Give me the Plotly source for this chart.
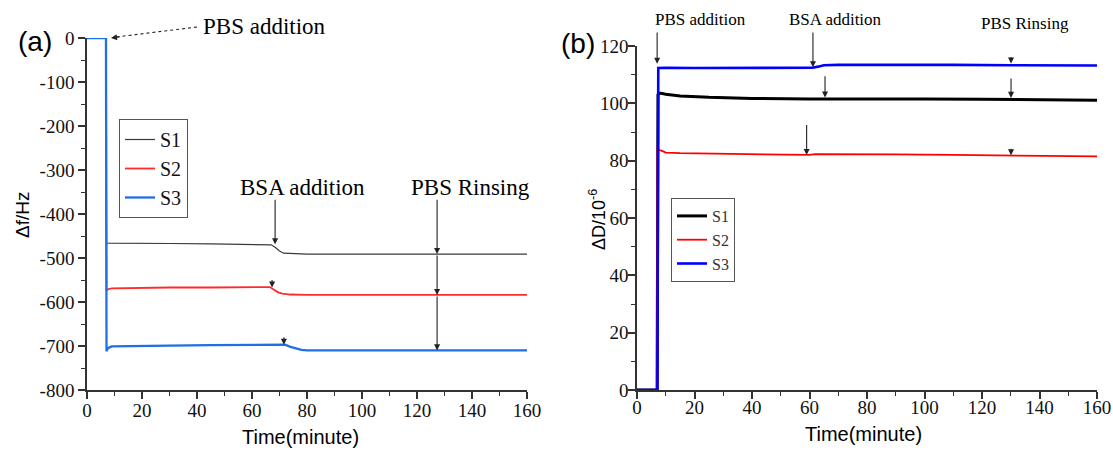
import plotly.graph_objects as go

# ---------------- data ----------------
# Panel (a): frequency shift, Hz
t_a1 = [0, 6.9, 7.1, 8, 15, 30, 45, 60, 67, 68.5, 70, 71.5, 74, 80, 100, 120, 140, 160]
f_s1 = [0, 0, -466, -466, -467, -467, -468, -469, -470, -476, -484, -489, -490, -491, -491, -491, -491, -491]

t_a2 = [0, 6.9, 7.1, 7.6, 9, 15, 30, 45, 60, 66.5, 68, 69.5, 71, 74, 80, 100, 120, 140, 160]
f_s2 = [0, 0, -574, -571, -569, -568, -567, -567, -566, -566, -572, -578, -581, -583, -584, -584, -584, -584, -584]

t_a3 = [0, 6.9, 7.1, 7.6, 9, 15, 30, 45, 60, 70, 72, 74, 76, 78, 80, 90, 100, 120, 140, 160]
f_s3 = [0, 0, -712, -705, -701, -700, -699, -698, -697, -696, -697, -702, -706, -709, -710, -710, -710, -710, -710, -710]

# Panel (b): dissipation shift, 1e-6
t_b1 = [0, 7.0, 7.3, 8, 10, 15, 25, 40, 60, 80, 100, 120, 140, 160]
d_s1 = [0, 0, 103, 103.6, 103.2, 102.6, 102.1, 101.7, 101.5, 101.6, 101.5, 101.4, 101.3, 101.1]

t_b2 = [0, 7.0, 7.1, 7.6, 8.5, 10, 15, 30, 45, 55, 58, 60, 62, 70, 90, 110, 130, 150, 160]
d_s2 = [0, 0, 85, 83.7, 83.5, 82.8, 82.6, 82.4, 82.2, 82.0, 81.8, 82.0, 82.3, 82.3, 82.2, 82.0, 81.8, 81.6, 81.5]

t_b3 = [0, 7.1, 7.4, 10, 20, 40, 55, 61, 63, 65, 70, 90, 110, 130, 150, 160]
d_s3 = [0, 0, 112.3, 112.4, 112.3, 112.4, 112.3, 112.4, 112.8, 113.3, 113.4, 113.5, 113.4, 113.3, 113.3, 113.2]

series_names = ["S1", "S2", "S3"]
x_ticks = [0, 20, 40, 60, 80, 100, 120, 140, 160]
ya_ticks = [0, -100, -200, -300, -400, -500, -600, -700, -800]
ya_labels = ["0", "-100", "-200", "-300", "-400", "-500", "-600", "-700", "-800"]
yb_ticks = [0, 20, 40, 60, 80, 100, 120]

# ---------------- figure ----------------
W, H = 1113, 450
def px(x):
    return x / W
def py(y):
    return 1 - y / H

SERIF = "Liberation Serif"
SANS = "Liberation Sans"
AX = "#333333"

fig = go.Figure()

colors_a = ["#3a3a3a", "#ff2b2b", "#1f6fe6"]
widths_a = [1.2, 1.8, 2.3]
for name, t, v, c, w in zip(series_names, [t_a1, t_a2, t_a3], [f_s1, f_s2, f_s3], colors_a, widths_a):
    fig.add_trace(go.Scatter(x=t, y=v, mode="lines", name=name, line=dict(color=c, width=w),
                             xaxis="x", yaxis="y", legend="legend"))

colors_b = ["#000000", "#ff0000", "#0000ff"]
widths_b = [3.0, 1.8, 2.6]
for name, t, v, c, w in zip(series_names, [t_b1, t_b2, t_b3], [d_s1, d_s2, d_s3], colors_b, widths_b):
    fig.add_trace(go.Scatter(x=t, y=v, mode="lines", name=name, line=dict(color=c, width=w),
                             xaxis="x2", yaxis="y2", legend="legend2"))

TICKFONT = dict(family=SERIF, size=19, color="#111")

def xaxis(domain, anchor, standoff):
    return dict(domain=domain, anchor=anchor, range=[0, 160], tickmode="array", tickvals=x_ticks,
                ticktext=[str(v) for v in x_ticks], automargin=False, ticklabelstandoff=standoff,
                showline=True, linecolor=AX, linewidth=1.5, ticks="outside", ticklen=7,
                tickwidth=1.5, tickcolor=AX, showgrid=False, zeroline=False,
                tickfont=TICKFONT,
                minor=dict(dtick=10, ticks="outside", ticklen=4, tickcolor=AX, tickwidth=1.2))

def yaxis(domain, anchor, rng, vals, texts, mdtick, standoff):
    return dict(domain=domain, anchor=anchor, range=rng, tickmode="array", tickvals=vals,
                ticktext=texts, automargin=False, ticklabelstandoff=standoff,
                showline=True, linecolor=AX, linewidth=1.5, ticks="outside", ticklen=7,
                tickwidth=1.5, tickcolor=AX, showgrid=False, zeroline=False,
                tickfont=TICKFONT,
                minor=dict(dtick=mdtick, ticks="outside", ticklen=4, tickcolor=AX, tickwidth=1.2))

fig.update_layout(
    width=W, height=H, margin=dict(l=0, r=0, t=0, b=0, pad=0, autoexpand=False),
    paper_bgcolor="white", plot_bgcolor="white",
    font=dict(family=SERIF),
    xaxis=xaxis([px(87), px(527)], "y", -5),
    yaxis=yaxis([py(390), py(38)], "x", [-800, 0], ya_ticks, ya_labels, 50, 0),
    xaxis2=xaxis([px(637), px(1097)], "y2", -8),
    yaxis2=yaxis([py(390), py(46)], "x2", [0, 120], yb_ticks, [str(v) for v in yb_ticks], 10, -4),
    legend=dict(x=px(119), y=py(119), xanchor="left", yanchor="top",
                bordercolor="#555", borderwidth=1, bgcolor="rgba(255,255,255,0)",
                font=dict(family=SERIF, size=20, color="#111"), tracegroupgap=0,
                itemwidth=30),
    legend2=dict(x=px(671), y=py(198), xanchor="left", yanchor="top",
                 bordercolor="#555", borderwidth=1, bgcolor="rgba(255,255,255,0)",
                 font=dict(family=SERIF, size=16, color="#333"), tracegroupgap=0,
                 itemwidth=30),
    showlegend=True,
)

def label(text, x, y, size, family=SERIF, angle=0):
    return dict(text=text, x=px(x), y=py(y), xref="paper", yref="paper",
                xanchor="center", yanchor="middle", textangle=angle,
                showarrow=False, font=dict(family=family, size=size, color="black"))

ann = []
# panel labels
ann.append(label("(a)", 35, 41, 28, SANS))
ann.append(label("(b)", 578, 43, 28, SANS))
# axis titles
ann.append(label("Δf/Hz", 22, 215, 19, SANS, -90))
ann.append(label("ΔD/10<sup>-6</sup>", 597, 220, 18, SANS, -90))
ann.append(label("Time(minute)", 300, 437, 20, SANS))
ann.append(label("Time(minute)", 863, 434, 20, SANS))

ARW = dict(showarrow=True, arrowhead=2, arrowsize=1.1, arrowwidth=1.1, arrowcolor="#222", text="")

# ---- panel (a) annotations ----
ann.append(label("PBS addition", 264, 26, 23))
ann.append(dict(x=px(111), y=py(38), xref="paper", yref="paper", ax=10, ay=-1.3, **ARW))
ann.append(label("BSA addition", 302, 187, 23))
ann.append(dict(x=68.4, y=-469, ax=68.4, ay=-364, xref="x", yref="y", axref="x", ayref="y", **ARW))
ann.append(dict(x=67.3, y=-567, ax=0, ay=-9, xref="x", yref="y", **ARW))
ann.append(dict(x=71.6, y=-697, ax=0, ay=-9, xref="x", yref="y", **ARW))
ann.append(label("PBS Rinsing", 470, 187, 23))
ann.append(dict(x=127.3, y=-491, ax=127.3, ay=-364, xref="x", yref="y", axref="x", ayref="y", **ARW))
ann.append(dict(x=127.3, y=-584, ax=127.3, ay=-491, xref="x", yref="y", axref="x", ayref="y", **ARW))
ann.append(dict(x=127.3, y=-710, ax=127.3, ay=-584, xref="x", yref="y", axref="x", ayref="y", **ARW))

# ---- panel (b) annotations ----
ann.append(label("PBS addition", 700, 19, 17))
ann.append(dict(x=7.0, y=113.8, ax=7.0, ay=125.2, xref="x2", yref="y2", axref="x2", ayref="y2", **ARW))
ann.append(label("BSA addition", 835, 20, 17))
ann.append(dict(x=61.2, y=112.6, ax=61.2, ay=125.2, xref="x2", yref="y2", axref="x2", ayref="y2", **ARW))
ann.append(dict(x=65.4, y=102.0, ax=65.4, ay=110.0, xref="x2", yref="y2", axref="x2", ayref="y2", **ARW))
ann.append(dict(x=59.0, y=82.0, ax=59.0, ay=93.0, xref="x2", yref="y2", axref="x2", ayref="y2", **ARW))
ann.append(label("PBS Rinsing", 1025, 23, 17))
ann.append(dict(x=130.1, y=113.9, ax=0, ay=-8, xref="x2", yref="y2", **ARW))
ann.append(dict(x=130.1, y=101.9, ax=130.1, ay=109.2, xref="x2", yref="y2", axref="x2", ayref="y2", **ARW))
ann.append(dict(x=130.1, y=81.9, ax=0, ay=-8, xref="x2", yref="y2", **ARW))

fig.update_layout(annotations=ann)

fig.add_shape(type="line", xref="paper", yref="paper", x0=px(197), y0=py(27), x1=px(116), y1=py(37),
              line=dict(color="#222", width=1.1, dash="dot"))

fig.write_html("out.html")
